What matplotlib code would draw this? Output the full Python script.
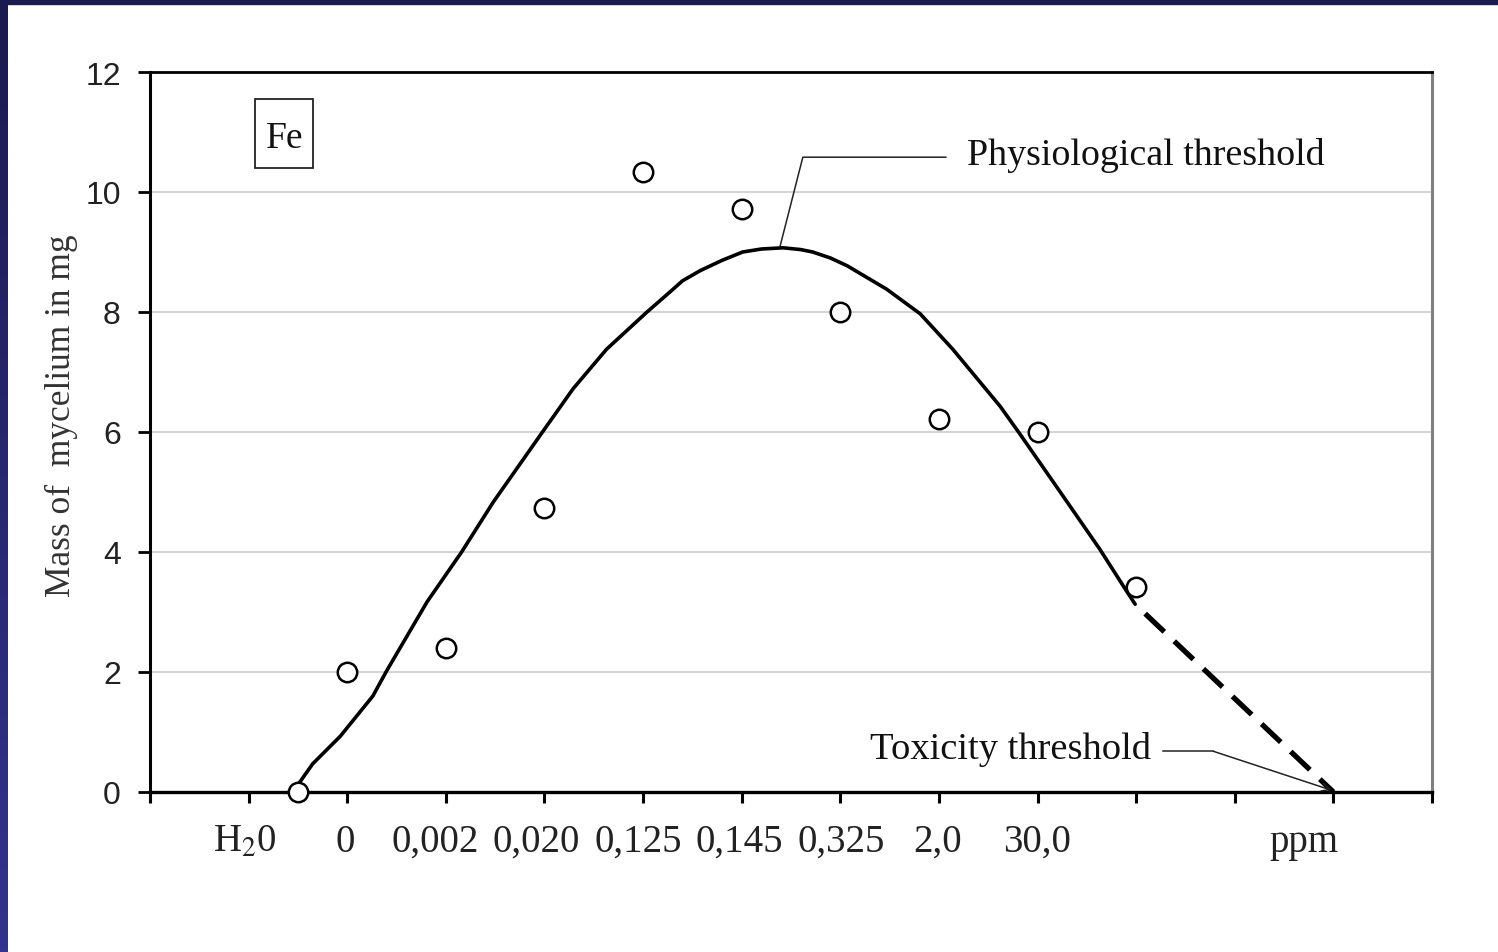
import matplotlib.pyplot as plt
import numpy as np
from matplotlib.patches import Rectangle
from matplotlib.colors import LinearSegmentedColormap
from matplotlib.transforms import blended_transform_factory

plt.rcParams['mathtext.fontset'] = 'stix'

# x axis categories (concentration, ppm); labels sit slightly off their ticks
tick_pos = [0.96, 1.98, 2.89, 3.92, 4.95, 5.98, 7.01, 7.99, 8.99]
tick_labels = ['H$_2$0', '0', '0,002', '0,020', '0,125', '0,145', '0,325', '2,0', '30,0']

# measured mass of mycelium (mg)
obs_x = [1.5, 2, 3, 4, 5, 6, 7, 8, 9, 10]
obs_y = [0.0, 2.0, 2.4, 4.73, 10.33, 9.72, 8.0, 6.22, 6.0, 3.42]

# fitted response curve
curve_x = [1.47, 1.65, 1.93, 2.26, 2.40, 2.81, 3.16, 3.48, 3.98, 4.29, 4.63,
           5.04, 5.27, 5.40, 5.58, 5.80, 6.01, 6.20, 6.42, 6.60, 6.72, 6.90, 7.07,
           7.47, 7.81, 8.14, 8.62, 8.82, 9.23, 9.63, 9.91, 9.99]
curve_y = [0.05, 0.47, 0.93, 1.60, 2.02, 3.17, 4.00, 4.83, 6.00, 6.72, 7.38,
           8.00, 8.33, 8.52, 8.69, 8.86, 9.00, 9.05, 9.07, 9.04, 9.00, 8.90, 8.77,
           8.38, 7.97, 7.38, 6.43, 5.97, 5.00, 4.05, 3.33, 3.13]

# extrapolation towards toxicity threshold
ext_x = [9.99, 12]
ext_y = [3.13, 0]

fig = plt.figure(figsize=(14.98, 9.53), dpi=100)
ax = fig.add_axes([150 / 1498, 1 - 793 / 953, 1282 / 1498, 720 / 953])

ax.set_xlim(0, 13)
ax.set_ylim(0, 12)

# grid
ax.set_yticks(range(0, 13, 2))
ax.yaxis.grid(True, color='#c8c8c8', lw=1.1)
ax.set_axisbelow(True)

# curve, extrapolation and points
ax.plot(curve_x, curve_y, color='black', lw=2.6, solid_capstyle='round',
        solid_joinstyle='round', zorder=3)
ax.plot(ext_x, ext_y, color='black', lw=3.8, ls=(5, (5, 2.6)), zorder=3)
ax.plot(obs_x, obs_y, 'o', ms=14, mfc='white', mec='black', mew=1.8,
        clip_on=False, zorder=4)

# spines
for s in ['left', 'top', 'bottom']:
    ax.spines[s].set_color('black')
ax.spines['left'].set_linewidth(2.2)
ax.spines['top'].set_linewidth(2.0)
ax.spines['bottom'].set_linewidth(2.4)
ax.spines['right'].set_color('#808080')
ax.spines['right'].set_linewidth(2.2)

# ticks
ax.set_xticks(range(14))
ax.set_xticklabels([])
ax.tick_params(axis='x', direction='out', length=8, width=2.2)
ax.tick_params(axis='y', direction='out', length=9, width=2.0, pad=12,
               labelsize=23, labelcolor='#222222')
for t in ax.get_yticklabels():
    t.set_fontfamily('Liberation Sans')

trans = blended_transform_factory(ax.transData, ax.transAxes)
for p, l in zip(tick_pos, tick_labels):
    ax.text(p, -0.082, l, transform=trans, ha='center', va='baseline',
            fontfamily='Liberation Serif', fontsize=28, color='#222222')
ax.text(11.7, -0.082, 'ppm', transform=trans, ha='center', va='baseline',
        fontfamily='Liberation Serif', fontsize=28, color='#222222')

ax.set_ylabel('Mass of  mycelium in mg', fontfamily='Liberation Serif',
              fontsize=25.5, color='#333333')
ax.yaxis.set_label_coords(-0.056, 0.524)

# Fe label
ax.add_patch(Rectangle((1.065, 10.4), 0.59, 1.15, fc='white', ec='#222222', lw=1.3,
                       zorder=5))
ax.text(1.36, 10.9, 'Fe', ha='center', va='center', fontfamily='Liberation Serif',
        fontsize=27, color='#111111', zorder=6)

# physiological threshold
ax.plot([6.39, 6.62, 8.07], [9.1, 10.58, 10.58], color='#222222', lw=1.1, zorder=2)
ax.text(8.28, 10.63, 'Physiological threshold', ha='left', va='center',
        fontfamily='Liberation Serif', fontsize=27.4, color='#111111')

# toxicity threshold
ax.text(7.30, 0.73, 'Toxicity threshold', ha='left', va='center',
        fontfamily='Liberation Serif', fontsize=27.7, color='#111111')
ax.plot([10.27, 10.78], [0.68, 0.68], color='#222222', lw=1.1)
ax.annotate('', xy=(11.98, 0.03), xytext=(10.78, 0.68),
            arrowprops=dict(arrowstyle='->', color='#222222', lw=1.1,
                            shrinkA=0, shrinkB=0, mutation_scale=14),
            annotation_clip=False)

# dark frame strips at the left and top edges
strip = fig.add_axes([0, 0, 8 / 1498, 1])
grad = np.linspace(0, 1, 256).reshape(-1, 1)
cmap = LinearSegmentedColormap.from_list('edge', ['#33338f', '#1b1b50'])
strip.imshow(grad, aspect='auto', cmap=cmap, origin='lower')
strip.axis('off')
fig.add_artist(Rectangle((0, 1 - 5 / 953), 1, 5 / 953, transform=fig.transFigure,
                         color='#1b1b50', zorder=10))

plt.savefig('out.png', dpi=100)
